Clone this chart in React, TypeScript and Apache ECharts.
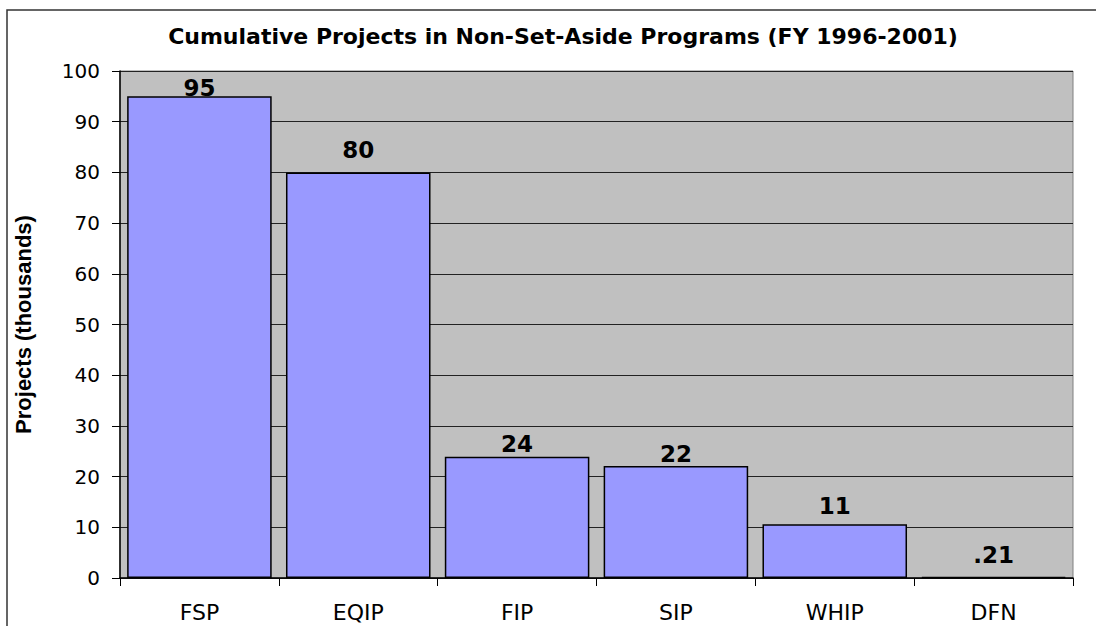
import React, { useEffect, useRef } from "react";
import * as echarts from "echarts";

const categories = ["FSP", "EQIP", "FIP", "SIP", "WHIP", "DFN"];
const values = [95, 80, 23.9, 22.1, 10.6, 0.21];
const valueLabels = ["95", "80", "24", "22", "11", ".21"];
const labelGaps = [-3, 11, 1, 0, 7, 10];
const titleText = "Cumulative Projects in Non-Set-Aside Programs (FY 1996-2001)";
const yAxisName = "Projects (thousands)";

export default function App() {
  const ref = useRef<HTMLDivElement>(null);
  useEffect(() => {
    document.body.style.margin = "0";
    const chart = echarts.init(ref.current!, null, { renderer: "svg" });
    chart.setOption({
      animation: false,
      backgroundColor: "#ffffff",
      title: {
        text: titleText,
        left: 558,
        top: 20,
        textAlign: "center",
        textStyle: { fontFamily: "DejaVu Sans", fontWeight: "bold", fontSize: 22, color: "#000" },
      },
      graphic: [
        {
          type: "rect",
          shape: { x: 7, y: 10, width: 1095, height: 640 },
          style: { fill: "none", stroke: "#333", lineWidth: 1.5 },
          silent: true,
        },
      ],
      grid: {
        left: 120,
        top: 71,
        right: 23,
        bottom: 48,
        show: true,
        backgroundColor: "#C0C0C0",
        borderColor: "#808080",
        borderWidth: 1,
      },
      xAxis: {
        type: "category",
        data: categories,
        axisLine: { show: true, lineStyle: { color: "#000", width: 1.5 } },
        axisTick: { show: true, length: 8, lineStyle: { color: "#000" } },
        axisLabel: { margin: 23, fontFamily: "DejaVu Sans", fontSize: 22, color: "#000" },
      },
      yAxis: {
        type: "value",
        min: 0,
        max: 100,
        interval: 10,
        name: yAxisName,
        nameLocation: "middle",
        nameGap: 86,
        nameTextStyle: { fontFamily: "Liberation Sans", fontWeight: "bold", fontSize: 22, color: "#000" },
        axisLine: { show: true, lineStyle: { color: "#000", width: 1.5 } },
        axisTick: { show: true, length: 8, lineStyle: { color: "#000" } },
        axisLabel: { margin: 20, fontFamily: "DejaVu Sans", fontSize: 20, color: "#000" },
        splitLine: { show: true, lineStyle: { color: "#222", width: 1 } },
      },
      series: [
        {
          type: "bar",
          barCategoryGap: "9%",
          data: values.map((v, i) => ({
            value: v,
            label: {
              show: true,
              position: "top",
              distance: labelGaps[i],
              formatter: valueLabels[i],
              fontFamily: "DejaVu Sans",
              fontWeight: "bold",
              fontSize: 23,
              color: "#000",
            },
          })),
          itemStyle: { color: "#9999FF", borderColor: "#000", borderWidth: 1.5 },
        },
      ],
    });
    return () => chart.dispose();
  }, []);
  return <div ref={ref} style={{ width: 1096, height: 626 }} />;
}
